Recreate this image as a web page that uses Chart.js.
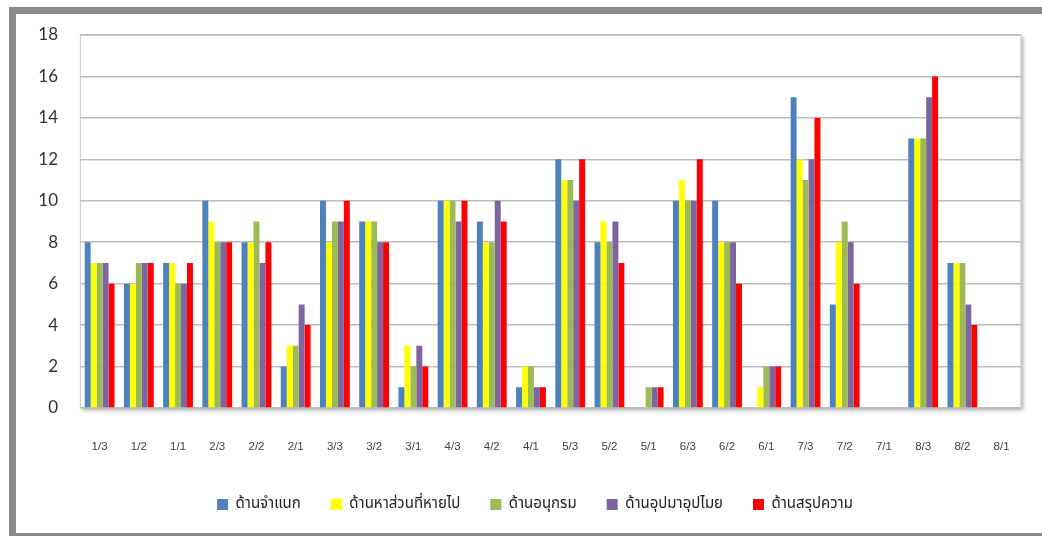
<!DOCTYPE html>
<html><head><meta charset="utf-8">
<script src="https://cdn.jsdelivr.net/npm/chart.js@4.4.0/dist/chart.umd.min.js"></script>
<style>
html,body{margin:0;padding:0;background:#fff;width:1042px;height:536px;overflow:hidden;}
</style></head>
<body>
<canvas id="c" width="1042" height="536"></canvas>
<script>
const categories = ["1/3","1/2","1/1","2/3","2/2","2/1","3/3","3/2","3/1","4/3","4/2","4/1","5/3","5/2","5/1","6/3","6/2","6/1","7/3","7/2","7/1","8/3","8/2","8/1"];
const seriesNames = ["ด้านจำแนก","ด้านหาส่วนที่หายไป","ด้านอนุกรม","ด้านอุปมาอุปไมย","ด้านสรุปความ"];
const jamnaek   = [8,6,7,10,8,2,10,9,1,10,9,1,12,8,0,10,10,0,15,5,0,13,7,0];
const haSuan    = [7,6,7,9,8,3,8,9,3,10,8,2,11,9,0,11,8,1,12,8,0,13,7,0];
const anukrom   = [7,7,6,8,9,3,9,9,2,10,8,2,11,8,1,10,8,2,11,9,0,13,7,0];
const upama     = [7,7,6,8,7,5,9,8,3,9,10,1,10,9,1,10,8,2,12,8,0,15,5,0];
const sarup     = [6,7,7,8,8,4,10,8,2,10,9,1,12,7,1,12,6,2,14,6,0,16,4,0];
const yTicks = [0,2,4,6,8,10,12,14,16,18];
const colors = ["#4F81BD","#FFFF00","#9BBB59","#8064A2","#FF0000"];

const values = [jamnaek, haSuan, anukrom, upama, sarup];
const datasets = values.map((v,i)=>({
  label: seriesNames[i], data: v, backgroundColor: colors[i],
  borderWidth: 0, barPercentage: 1.0, categoryPercentage: 0.76
}));

const plotBg = {
  id:'plotBg',
  afterLayout(chart){
    const lg = chart.legend;
    if (lg) { lg.left += 24; lg.right += 24; }
  },
  beforeDraw(chart){
    const {ctx, chartArea:a, width, height} = chart;
    ctx.save();
    ctx.fillStyle='#8a8a8a';
    ctx.fillRect(9,7,width-9,7);
    ctx.fillRect(9,7,7,height-7);
    ctx.fillRect(9,533,width-9,3);
    ctx.restore();
    ctx.save();
    ctx.shadowColor='rgba(0,0,0,0.35)';
    ctx.shadowBlur=4; ctx.shadowOffsetX=2; ctx.shadowOffsetY=2;
    ctx.fillStyle='#fff';
    ctx.fillRect(a.left,a.top,a.right-a.left,a.bottom-a.top);
    ctx.restore();
    ctx.save();
    ctx.strokeStyle='#d0d0d0'; ctx.lineWidth=1;
    ctx.strokeRect(a.left+0.5,a.top+0.5,a.right-a.left-1,a.bottom-a.top-1);
    ctx.restore();
  }
};

new Chart(document.getElementById('c'), {
  type:'bar',
  data:{labels:categories, datasets},
  plugins:[plotBg],
  options:{
    responsive:false, animation:false,
    layout:{padding:{top:35,left:0,right:20,bottom:14}},
    plugins:{
      tooltip:{enabled:false},
      legend:{position:'bottom',
        labels:{boxWidth:11,boxHeight:11,padding:30,color:'#222',
          font:{size:15,family:"Tahoma,'Noto Sans Thai','Leelawadee UI',sans-serif"}}}
    },
    scales:{
      x:{
        grid:{display:false, drawTicks:false},
        border:{display:false},
        ticks:{padding:32,color:'#404040',font:{size:11.5,family:"'Liberation Sans',Arial,sans-serif"},maxRotation:0,autoSkip:false},
        afterFit(s){ s.height = 59; }
      },
      y:{
        min:0,max:18,
        afterBuildTicks(s){ s.ticks = yTicks.map(v=>({value:v})); },
        grid:{color:'#bdbdbd',lineWidth:1.6,drawTicks:false},
        border:{display:false},
        ticks:{padding:22,color:'#333',font:{size:17,family:"Lato,'Open Sans',sans-serif"}},
        afterFit(s){ s.width = 80; }
      }
    }
  }
});
</script>
</body></html>
